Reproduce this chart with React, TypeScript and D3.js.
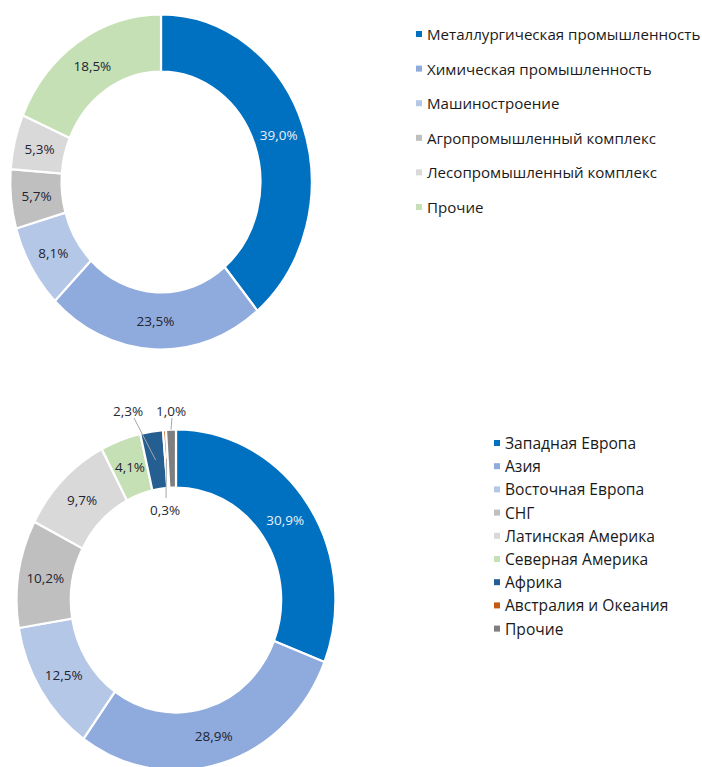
import React from 'react';
import * as d3 from 'd3';

// top chart: industries
const industryNames = [
  'Металлургическая промышленность',
  'Химическая промышленность',
  'Машиностроение',
  'Агропромышленный комплекс',
  'Лесопромышленный комплекс',
  'Прочие',
];
const industryValues = [39.0, 23.5, 8.1, 5.7, 5.3, 18.5];
const industryColors = ['#0070C0', '#8FAADC', '#B4C7E7', '#BFBFBF', '#D9D9D9', '#C5E0B4'];

// bottom chart: regions
const regionNames = [
  'Западная Европа',
  'Азия',
  'Восточная Европа',
  'СНГ',
  'Латинская Америка',
  'Северная Америка',
  'Африка',
  'Австралия и Океания',
  'Прочие',
];
const regionValues = [30.9, 28.9, 12.5, 10.2, 9.7, 4.1, 2.3, 0.3, 1.0];
const regionColors = ['#0070C0', '#8FAADC', '#B4C7E7', '#BFBFBF', '#D9D9D9', '#C5E0B4', '#255E91', '#C55A11', '#7F7F7F'];

const FONT = '"Open Sans", "Noto Sans", sans-serif';

const fmt = (v: number) => v.toFixed(1).replace('.', ',') + '%';

type LabelSpot = { dx: number; dy: number; to: 'centroid' | 'outer' };

interface DonutProps {
  values: number[];
  colors: string[];
  cx: number;
  cy: number;
  outer: number;
  inner: number;
  sx: number;
  spots?: Record<number, LabelSpot>;
}

function Donut({ values, colors, cx, cy, outer, inner, sx, spots = {} }: DonutProps) {
  const pie = d3.pie<number>().sort(null).value(d => d)(values);
  const arc = d3.arc<d3.PieArcDatum<number>>().innerRadius(inner).outerRadius(outer);
  const mid = (inner + outer) / 2;

  return (
    <g>
      <g transform={`translate(${cx},${cy}) scale(${sx},1)`}>
        {pie.map((p, i) => (
          <path key={i} d={arc(p) || ''} fill={colors[i]} stroke="#fff" strokeWidth={2.2}
            style={{ vectorEffect: 'non-scaling-stroke' }} />
        ))}
      </g>
      {pie.map((p, i) => {
        const a = (p.startAngle + p.endAngle) / 2;
        const spot = spots[i];
        const dark = colors[i] === '#0070C0';
        if (spot) {
          const r = spot.to === 'outer' ? outer : mid;
          const ex = cx + sx * r * Math.sin(a);
          const ey = cy - r * Math.cos(a);
          const tx = cx + spot.dx;
          const ty = cy + spot.dy;
          const ly = spot.dy < -inner ? ty + 7 : ty - 12;
          return (
            <g key={i}>
              <line x1={tx + (spot.dx < -20 ? 6 : 1)} y1={ly} x2={ex} y2={ey} stroke="#A6A6A6" strokeWidth={1} />
              <text x={tx} y={ty} textAnchor="middle" dominantBaseline="central"
                fontFamily={FONT} fontSize={13.5} fill="#262A33">{fmt(values[i])}</text>
            </g>
          );
        }
        return (
          <text key={i} x={cx + sx * mid * Math.sin(a)} y={cy - mid * Math.cos(a)}
            textAnchor="middle" dominantBaseline="central" fontFamily={FONT} fontSize={13.5}
            fill={dark ? '#E8F0FA' : '#1F2433'}>{fmt(values[i])}</text>
        );
      })}
    </g>
  );
}

function Legend({ names, colors, x, y, step, size }: { names: string[]; colors: string[]; x: number; y: number; step: number; size: number }) {
  return (
    <g>
      {names.map((n, i) => (
        <g key={n + i} transform={`translate(${x},${y + i * step})`}>
          <rect x={0} y={-3} width={6} height={6} fill={colors[i]} />
          <text x={11} y={0} dominantBaseline="central" fontFamily={FONT} fontSize={size} fill="#1A1A1A">{n}</text>
        </g>
      ))}
    </g>
  );
}

export default function App() {
  return (
    <svg width={702} height={767} style={{ position: 'absolute', left: 0, top: 0, background: '#fff' }}>
      <Donut values={industryValues} colors={industryColors} cx={161} cy={182} outer={167.5} inner={110.5} sx={0.9} />
      <Legend names={industryNames} colors={industryColors} x={416} y={34} step={34.6} size={15.1} />

      <Donut values={regionValues} colors={regionColors} cx={176} cy={600} outer={170.5} inner={112.5} sx={0.935}
        spots={{
          6: { dx: -48, dy: -189, to: 'centroid' },
          7: { dx: -11, dy: -90, to: 'centroid' },
          8: { dx: -5, dy: -189, to: 'outer' },
        }} />
      <Legend names={regionNames} colors={regionColors} x={494} y={443} step={23.2} size={15.6} />
    </svg>
  );
}
